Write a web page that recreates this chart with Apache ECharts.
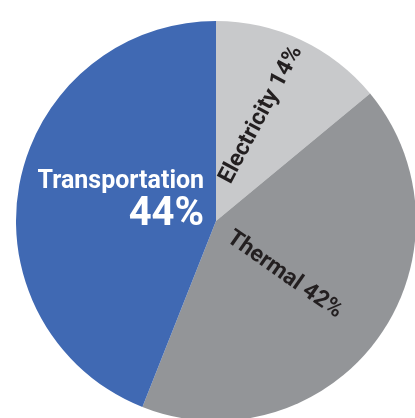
<!DOCTYPE html>
<html>
<head>
<meta charset="utf-8">
<script src="https://cdn.jsdelivr.net/npm/echarts@6/dist/echarts.min.js"></script>
<style>
html,body{margin:0;padding:0;background:#fff;}
#chart{width:415px;height:418px;}
</style>
</head>
<body>
<div id="chart"></div>
<script>
var categories = ['Electricity', 'Thermal', 'Transportation'];
var values = [14, 42, 44];
var colors = ['#C8C9CB', '#939598', '#4069B3'];

var chart = echarts.init(document.getElementById('chart'), null, {renderer: 'canvas'});
var FONT = 'Roboto, "Liberation Sans", sans-serif';

var labelCfg = {
  Electricity: {rotate: 62, dx: 12, dy: -5},
  Thermal: {rotate: -35, dx: -16, dy: 3},
  Transportation: {rotate: 0, dx: 6, dy: -1}
};

var data = categories.map(function (c, i) {
  var item = {name: c, value: values[i], itemStyle: {color: colors[i]}};
  if (c === 'Transportation') {
    item.label = {
      rotate: 0,
      formatter: '{a|{b}}\n{p|{c}%}',
      align: 'right',
      rich: {
        a: {fontFamily: FONT, fontWeight: 'bold', fontSize: 25, color: '#fff', align: 'right', lineHeight: 28},
        p: {fontFamily: FONT, fontWeight: 'bold', fontSize: 40, color: '#fff', align: 'right', lineHeight: 38}
      }
    };
  } else {
    item.label = {
      rotate: labelCfg[c].rotate,
      formatter: '{b} {c}%',
      fontFamily: FONT,
      fontWeight: 'bold',
      fontSize: 23,
      color: '#231F20'
    };
  }
  return item;
});

chart.setOption({
  backgroundColor: '#fff',
  animation: false,
  series: [{
    type: 'pie',
    center: [216, 221],
    radius: [0, 200],
    startAngle: 90,
    clockwise: true,
    label: {show: true, position: 'inside'},
    labelLine: {show: false},
    labelLayout: function (params) {
      var cfg = labelCfg[categories[params.dataIndex]];
      return {dx: cfg.dx, dy: cfg.dy};
    },
    itemStyle: {borderWidth: 0},
    emphasis: {disabled: true},
    data: data
  }]
});
</script>
</body>
</html>
